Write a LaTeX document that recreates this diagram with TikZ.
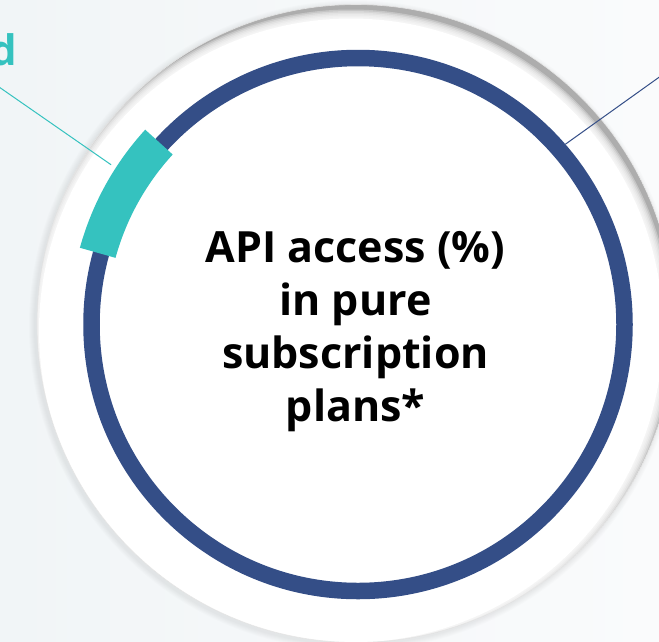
\documentclass[tikz,border=0pt]{standalone}
\usepackage{fontspec}
\setmainfont{Open Sans}
\usepackage{xcolor}
\usepackage{tikz}
\usetikzlibrary{calc,positioning}
\definecolor{ringblue}{RGB}{52,78,135}
\definecolor{ringteal}{RGB}{53,194,191}
\definecolor{bgleft}{RGB}{241,245,247}
\definecolor{bgright}{RGB}{250,251,252}

\begin{document}
\begin{tikzpicture}[
  x=1pt, y=1pt,
  ring/.style={circle, draw=ringblue, line width=16.5pt, inner sep=0pt,
    minimum size=533pt},
  share/.style={draw=ringteal, line width=37pt},
  title/.style={font=\fontsize{43}{53}\selectfont\bfseries, align=center,
    text=black},
  tag/.style={font=\fontsize{42}{50}\selectfont\bfseries, text=ringteal},
  leader/.style={line width=1pt}
]
\useasboundingbox (0,0) rectangle (659,-641);

% Background
\shade[left color=bgleft, right color=bgright] (0,0) rectangle (659,-641);

% Disk with soft inner shadow
\coordinate (disk) at (356,-323.5);
\foreach \k in {1,...,6}
  \fill[black, opacity=0.012] ($(disk)+(-2,-2)$) circle[radius=319+\k];
\begin{scope}
  \clip (disk) circle[radius=319];
  \fill[black!32] (disk) circle[radius=319];
  \fill[white] ($(disk)+(-5,-7)$) circle[radius=312];
  \foreach \k in {1,...,6}
    \fill[white, opacity=0.3] ($(disk)+(-5,-7)$) circle[radius=312+1.5*\k];
\end{scope}
\draw[black!10, line width=0.6pt] (disk) circle[radius=319];

% Ring and share
\node[ring] (ring) at (358,-324.5) {};
\draw[share] ([shift={(ring.center)}]137.5:270) arc[start angle=137.5, end angle=164.6, radius=270];

% Title
\node[title] (label) at (355.5,-332) {API access (\%)\\in pure\\subscription\\plans*};

% Leaders
\coordinate (tealfoot) at ([shift={(ring.center)}]147.1:294);
\coordinate (tealtip) at (-6,-83.5);
\node[tag, anchor=base east] (tealtag) at (21,-65) {d};
\draw[leader, draw=ringteal] (tealfoot) -- (tealtip);
\coordinate (bluetip) at (665,-73);
\draw[leader, draw=ringblue] (ring.41.7) -- (bluetip);

\end{tikzpicture}
\end{document}
